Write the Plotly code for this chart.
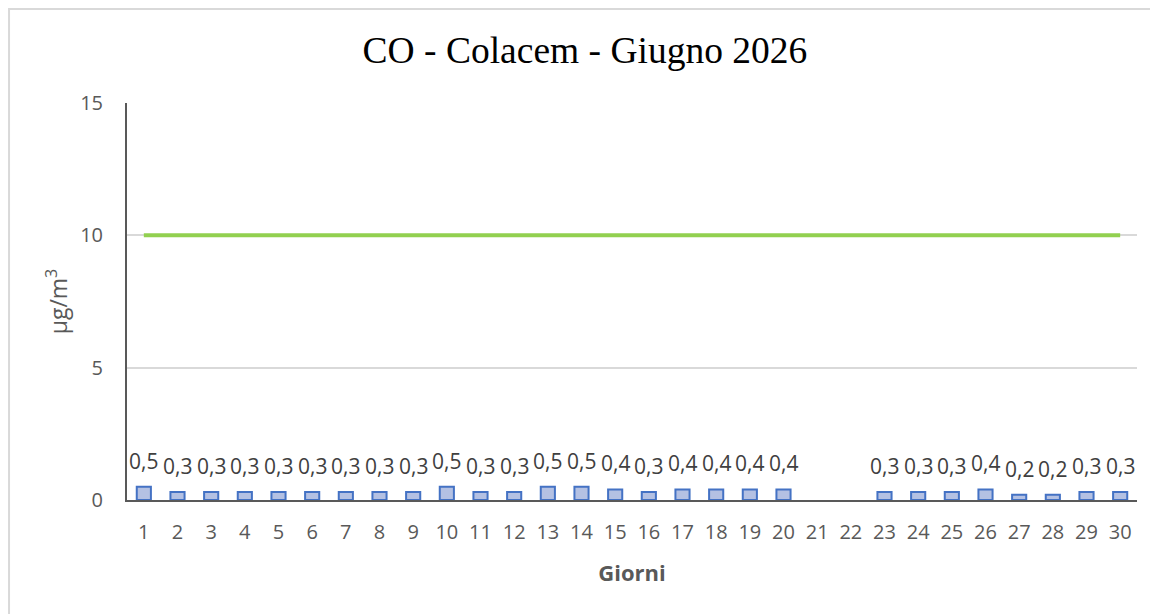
import plotly.graph_objects as go

# Dati giornalieri CO - Colacem, Giugno 2026
giorni = list(range(1, 31))
valori = [0.5, 0.3, 0.3, 0.3, 0.3, 0.3, 0.3, 0.3, 0.3, 0.5,
          0.3, 0.3, 0.5, 0.5, 0.4, 0.3, 0.4, 0.4, 0.4, 0.4,
          None, None, 0.3, 0.3, 0.3, 0.4, 0.2, 0.2, 0.3, 0.3]
limite = [10] * 30

font_ax = "Open Sans, Liberation Sans, sans-serif"

fig = go.Figure()

fig.add_trace(go.Bar(
    x=giorni, y=valori, width=0.42,
    marker=dict(color="#b4c1e3", line=dict(color="#4472c4", width=2)),
    showlegend=False, hoverinfo="x+y"
))

fig.add_trace(go.Scatter(
    x=giorni, y=limite, mode="lines",
    line=dict(color="#92d050", width=4),
    showlegend=False
))

# Etichette dei valori con la virgola decimale
for g, v in zip(giorni, valori):
    if v is None:
        continue
    fig.add_annotation(
        x=g, y=v, text=f"{v:.1f}".replace(".", ","),
        showarrow=False, yanchor="bottom", yshift=10,
        font=dict(family=font_ax, size=21, color="#404040")
    )

# Bordo grigio dell'area del grafico
fig.add_shape(type="rect", xref="paper", yref="paper",
              x0=-0.1168, y0=-0.4, x1=1.2, y1=1.2368,
              line=dict(color="#d9d9d9", width=2), layer="below")

# la pagina ha un margine di 8px: figura 1150x606
fig.update_layout(
    width=1150, height=606,
    margin=dict(l=119, r=21, t=95, b=114, autoexpand=False),
    paper_bgcolor="white", plot_bgcolor="white",
    title=dict(text="CO - Colacem - Giugno 2026", xref="container", x=0.5017,
               y=0.9307, yanchor="middle", xanchor="center",
               font=dict(family="Liberation Serif, Times New Roman, serif", size=37.5, color="black")),
    xaxis=dict(
        range=[0.5, 30.5], tickmode="array", tickvals=giorni,
        ticktext=[str(g) for g in giorni], ticks="", showgrid=False,
        showline=True, linecolor="#595959", linewidth=2,
        ticklabelstandoff=13, automargin=False,
        tickfont=dict(family=font_ax, size=20, color="#595959"),
        title=dict(text="<b>Giorni</b>", standoff=22,
                   font=dict(family=font_ax, size=22, color="#595959"))
    ),
    yaxis=dict(
        range=[0, 15], tickvals=[0, 5, 10, 15], ticks="",
        showgrid=True, gridcolor="#d9d9d9", gridwidth=1.5,
        zeroline=False, showline=True, linecolor="#595959", linewidth=2,
        ticklabelstandoff=18, automargin=False,
        tickfont=dict(family=font_ax, size=20, color="#595959"),
        title=dict(text="µg/m<sup>3</sup>", standoff=6,
                   font=dict(family=font_ax, size=23, color="#595959"))
    ),
    bargap=0.58,
)

fig.write_html("out.html")
